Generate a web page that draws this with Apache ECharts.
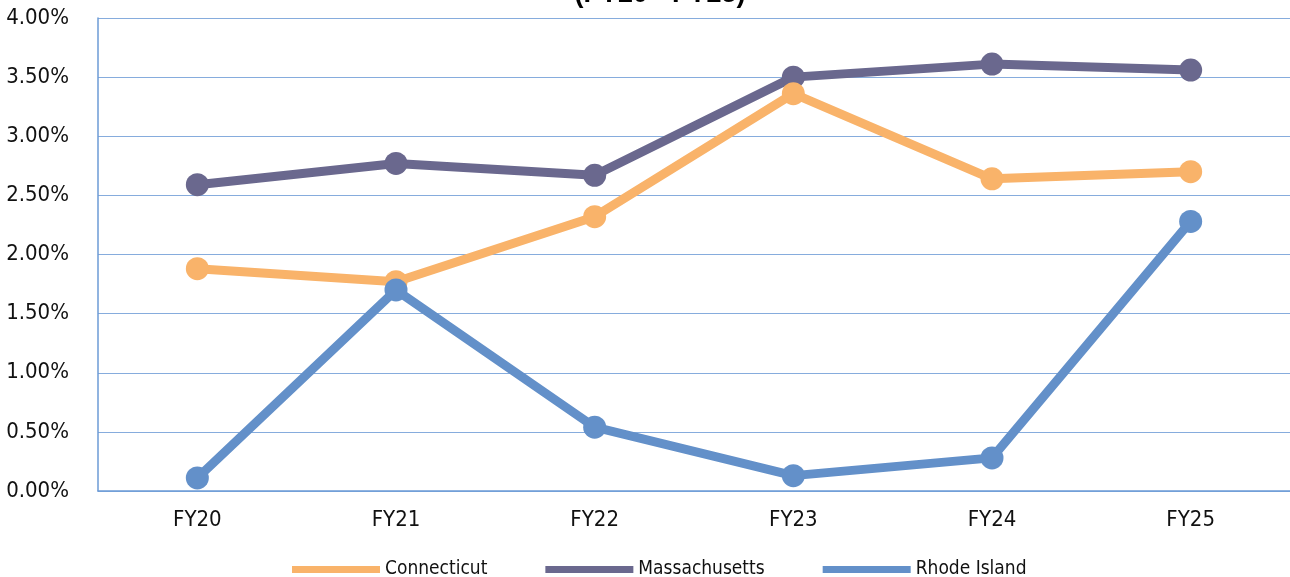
<!DOCTYPE html>
<html>
<head>
<meta charset="utf-8">
<script src="https://cdn.jsdelivr.net/npm/echarts@6/dist/echarts.min.js"></script>
<style>
  html, body { margin: 0; padding: 0; background: #ffffff; }
  #chart { width: 1290px; height: 577px; }
</style>
</head>
<body>
<div id="chart"></div>
<script>
// Fiscal years on the category axis
const years = ['FY20', 'FY21', 'FY22', 'FY23', 'FY24', 'FY25'];

// Annual growth rates, in percent
const connecticut   = [1.88, 1.77, 2.32, 3.36, 2.64, 2.70];
const massachusetts = [2.59, 2.77, 2.67, 3.50, 3.61, 3.56];
const rhodeIsland   = [0.11, 1.70, 0.54, 0.13, 0.28, 2.28];

// Value axis range and step, in percent
const yMin = 0;
const yMax = 4;
const yStep = 0.5;

const titleText = '(FY20 - FY25)';

const FONT = '"DejaVu Sans Condensed", "Liberation Sans Narrow", sans-serif';
const COLORS = {
  'Connecticut': '#F9B36A',
  'Massachusetts': '#6A688E',
  'Rhode Island': '#6390C9'
};

function lineSeries(name, data, z) {
  return {
    name: name,
    type: 'line',
    data: data,
    z: z,
    symbol: 'circle',
    symbolSize: 23,
    lineStyle: { width: 9, color: COLORS[name] },
    itemStyle: { color: COLORS[name] },
    emphasis: { disabled: true },
    animation: false
  };
}

const chart = echarts.init(document.getElementById('chart'), null, { renderer: 'canvas' });
chart.setOption({
  backgroundColor: '#ffffff',
  animation: false,
  graphic: [{
    type: 'text',
    x: 660,
    y: 8,
    style: {
      text: titleText,
      align: 'center',
      verticalAlign: 'bottom',
      font: 'bold 27px "Liberation Sans", Arial, sans-serif',
      fill: '#000000'
    }
  }],
  grid: { left: 98, right: -8, top: 18, bottom: 86, containLabel: false },
  legend: {
    data: ['Connecticut', 'Massachusetts', 'Rhode Island'],
    left: 287,
    top: 555,
    icon: 'rect',
    itemWidth: 88,
    itemHeight: 7,
    itemGap: 58,
    textStyle: { fontFamily: FONT, fontSize: 19, color: '#111111' }
  },
  xAxis: {
    type: 'category',
    data: years,
    boundaryGap: true,
    axisLine: { show: true, lineStyle: { color: '#6C9BD6', width: 1.5 } },
    axisTick: { show: false },
    axisLabel: { fontFamily: FONT, fontSize: 22, color: '#111111', margin: 18 },
    splitLine: { show: false }
  },
  yAxis: {
    type: 'value',
    min: yMin,
    max: yMax,
    interval: yStep,
    axisLine: { show: true, lineStyle: { color: '#6C9BD6', width: 1.5 } },
    axisTick: { show: false },
    axisLabel: {
      fontFamily: FONT, fontSize: 22, color: '#111111', margin: 29,
      formatter: v => v.toFixed(2) + '%'
    },
    splitLine: { show: true, lineStyle: { color: '#86ACDD', width: 1.2 } }
  },
  series: [
    lineSeries('Massachusetts', massachusetts, 2),
    lineSeries('Connecticut', connecticut, 3),
    lineSeries('Rhode Island', rhodeIsland, 4)
  ]
});
</script>
</body>
</html>
